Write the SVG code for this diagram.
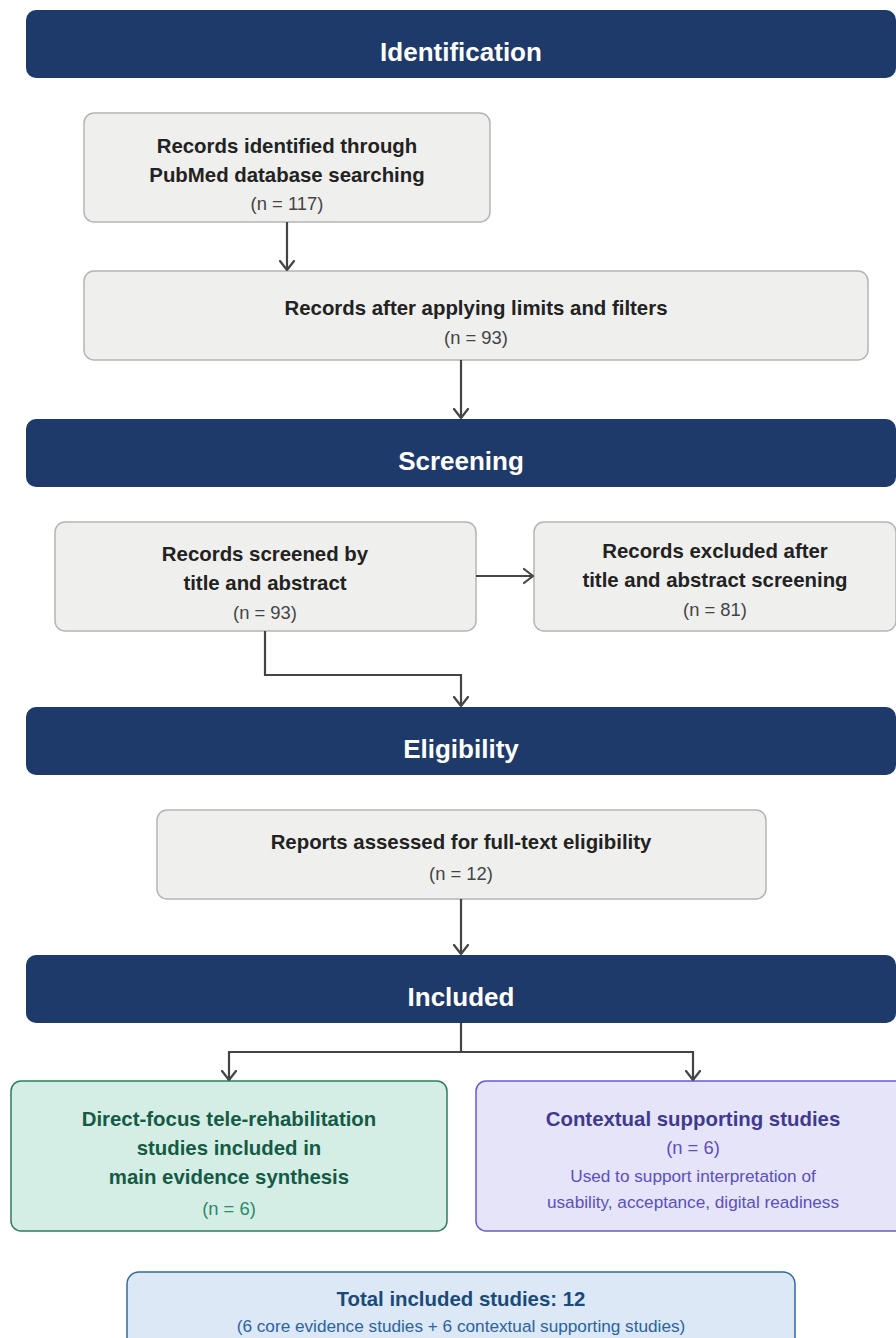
<svg xmlns="http://www.w3.org/2000/svg" width="896" height="1338" viewBox="0 0 896 1338">
<defs>
<marker id="arr" markerUnits="userSpaceOnUse" markerWidth="20" markerHeight="20" viewBox="-10 -10 20 20" refX="0" refY="0" orient="auto">
<path d="M-9,-7 L0,0 L-9,7" fill="none" stroke="#444" stroke-width="2.2" stroke-linecap="round" stroke-linejoin="round"/>
</marker>
</defs>
<style>
text{font-family:"Liberation Sans",Arial,sans-serif;text-anchor:middle}
.banner rect{fill:#1e3a6b}
.banner text{fill:#fff;font-size:26px;font-weight:bold}
.box{fill:#efefed;stroke:#b5b5b5;stroke-width:1.5}
.t{font-size:20.4px;font-weight:bold;fill:#222}
.n{font-size:18.4px;fill:#444}
.conn path{fill:none;stroke:#444;stroke-width:2.2}
</style>
<rect width="896" height="1338" fill="#fff"/>
<g id="banner-identification" class="banner"><rect x="26" y="10" width="870" height="68" rx="10"/><text x="461" y="61">Identification</text></g>
<g id="banner-screening" class="banner"><rect x="26" y="419" width="870" height="68" rx="10"/><text x="461" y="470">Screening</text></g>
<g id="banner-eligibility" class="banner"><rect x="26" y="707" width="870" height="68" rx="10"/><text x="461" y="758">Eligibility</text></g>
<g id="banner-included" class="banner"><rect x="26" y="955" width="870" height="68" rx="10"/><text x="461" y="1006">Included</text></g>

<g id="records-identified"><rect class="box" x="84" y="113" width="406" height="109" rx="10"/>
<text class="t" x="287" y="153">Records identified through</text>
<text class="t" x="287" y="182">PubMed database searching</text>
<text class="n" x="287" y="210">(n = 117)</text></g>

<g id="records-filtered"><rect class="box" x="84" y="271" width="784" height="89" rx="10"/>
<text class="t" x="476" y="315">Records after applying limits and filters</text>
<text class="n" x="476" y="344">(n = 93)</text></g>

<g id="records-screened"><rect class="box" x="55" y="522" width="421" height="109" rx="10"/>
<text class="t" x="265" y="561">Records screened by</text>
<text class="t" x="265" y="590">title and abstract</text>
<text class="n" x="265" y="619">(n = 93)</text></g>

<g id="records-excluded"><rect class="box" x="534" y="522" width="362" height="109" rx="10"/>
<text class="t" x="715" y="558">Records excluded after</text>
<text class="t" x="715" y="587">title and abstract screening</text>
<text class="n" x="715" y="616">(n = 81)</text></g>

<g id="reports-assessed"><rect class="box" x="157" y="810" width="609" height="89" rx="10"/>
<text class="t" x="461" y="849">Reports assessed for full-text eligibility</text>
<text class="n" x="461" y="880">(n = 12)</text></g>

<g id="direct-focus"><rect x="11" y="1081" width="436" height="150" rx="10" fill="#d4eee5" stroke="#2e7d5e" stroke-width="1.5"/>
<text class="t" x="229" y="1126" style="fill:#145a44">Direct-focus tele-rehabilitation</text>
<text class="t" x="229" y="1155" style="fill:#145a44">studies included in</text>
<text class="t" x="229" y="1184" style="fill:#145a44">main evidence synthesis</text>
<text class="n" x="229" y="1215" style="fill:#2a8a6a">(n = 6)</text></g>

<g id="contextual"><rect x="476" y="1081" width="434" height="150" rx="10" fill="#e6e4f8" stroke="#6a5acd" stroke-width="1.5"/>
<text class="t" x="693" y="1126" style="fill:#3f3a8f">Contextual supporting studies</text>
<text class="n" x="693" y="1154" style="fill:#5a4fc0">(n = 6)</text>
<text x="693" y="1182" style="font-size:17.2px;fill:#5a4fc0">Used to support interpretation of</text>
<text x="693" y="1208" style="font-size:17.2px;fill:#5a4fc0">usability, acceptance, digital readiness</text></g>

<g id="total"><rect x="127" y="1272" width="668" height="90" rx="12" fill="#dce8f5" stroke="#2f6aa0" stroke-width="1.5"/>
<text x="461" y="1306" style="font-size:20.4px;font-weight:bold;fill:#1b4a7a">Total included studies: 12</text>
<text x="461" y="1332" style="font-size:17.2px;fill:#2b63a0">(6 core evidence studies + 6 contextual supporting studies)</text></g>

<g id="connectors" class="conn">
<path d="M287,222 V270" marker-end="url(#arr)"/>
<path d="M461,360 V418" marker-end="url(#arr)"/>
<path d="M476,576 H533" marker-end="url(#arr)"/>
<path d="M265,631 V675 H461 V706" marker-end="url(#arr)"/>
<path d="M461,899 V954" marker-end="url(#arr)"/>
<path d="M461,1023 V1052 H229 V1080" marker-end="url(#arr)"/>
<path d="M461,1052 H693 V1080" marker-end="url(#arr)"/>
</g>
</svg>
